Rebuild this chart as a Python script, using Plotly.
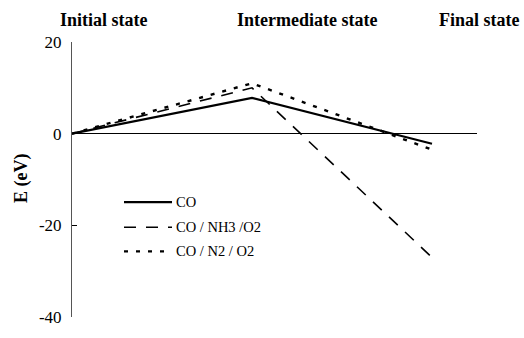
import plotly.graph_objects as go

states = ["Initial state", "Intermediate state", "Final state"]
state_pos = [0, 1, 2]
co = [0, 7.8, -2.2]
co_nh3_o2 = [0, 10.0, -27.0]
co_n2_o2 = [0, 11.0, -3.5]
series_names = ["CO", "CO / NH3 /O2", "CO / N2 / O2"]
ytick_vals = [20, 0, -20, -40]
ytick_text = ["20", "0", "-20", "-40"]

FONT = "Liberation Serif"
styles = [
    dict(color="black", width=2.2, dash="solid"),
    dict(color="black", width=1.6, dash="12px,10px"),
    dict(color="black", width=2.4, dash="4px,8px"),
]

fig = go.Figure()
for name, ys, st in zip(series_names, [co, co_nh3_o2, co_n2_o2], styles):
    fig.add_trace(go.Scatter(x=state_pos, y=ys, mode="lines", name=name,
                             line=st, showlegend=False))

# manual legend
L, T = 72, 42
W, H = 405, 285
def px(xp):
    return (xp - L) / W
def py(yp):
    return (T + H - yp) / H

legend_rows = [208, 234, 259]
for name, st, yr in zip(series_names, styles, legend_rows):
    fig.add_shape(type="line", xref="paper", yref="paper",
                  x0=px(124), x1=px(172), y0=py(yr), y1=py(yr), line=st)
    fig.add_annotation(xref="paper", yref="paper", x=px(174), y=py(yr),
                       text=name, showarrow=False, xanchor="left", yanchor="middle",
                       font=dict(family=FONT, size=14.5, color="black"))

# state labels on top
for s, xc in zip(states, [104, 307, 480]):
    fig.add_annotation(xref="paper", yref="paper", x=px(xc), y=py(19),
                       text="<b>%s</b>" % s, showarrow=False, xanchor="center",
                       yanchor="middle", font=dict(family=FONT, size=18, color="black"))

# y axis title
fig.add_annotation(xref="paper", yref="paper", x=px(21), y=py(184),
                   text="<b>E (eV)</b>", textangle=-90, showarrow=False,
                   xanchor="center", yanchor="middle",
                   font=dict(family=FONT, size=18, color="black"))

fig.update_layout(
    width=524, height=338,
    margin=dict(l=L, r=524 - L - W, t=T, b=338 - T - H, pad=0),
    paper_bgcolor="white", plot_bgcolor="white",
    font=dict(family=FONT, color="black"),
    xaxis=dict(range=[0, 2.25], visible=False, fixedrange=True),
    yaxis=dict(range=[-40, 20], showgrid=False, zeroline=True,
               zerolinecolor="black", zerolinewidth=1,
               showline=True, linecolor="#555555", linewidth=1,
               ticks="inside", ticklen=5, tickcolor="black", tickwidth=1,
               tickvals=ytick_vals, ticktext=ytick_text,
               tickfont=dict(family=FONT, size=17, color="black"),
               ticklabelstandoff=6, fixedrange=True),
)

fig.write_html("out.html", config={"displayModeBar": False},
               post_script="document.body.style.margin='0';document.body.style.padding='0';")
